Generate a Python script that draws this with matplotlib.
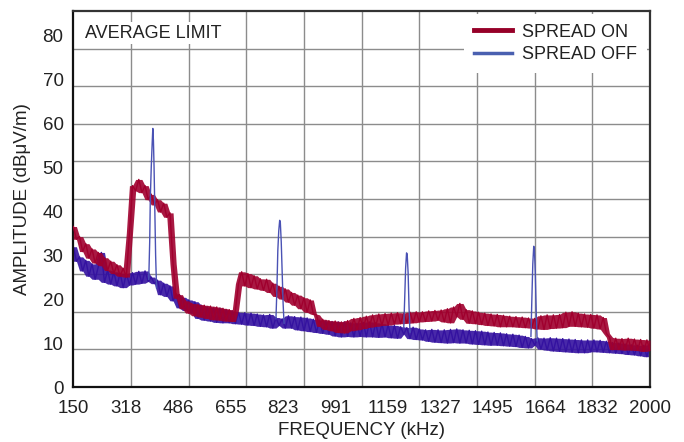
import numpy as np
import pandas as pd
import matplotlib.pyplot as plt

plt.rcParams['font.family'] = ['Liberation Sans', 'DejaVu Sans']

freq = np.arange(150, 2001, 10)

spread_on = [
    36.5, 33.6, 34.2, 30.8, 32.6, 29.3, 31.4, 28.2, 30.6, 27.6,
    29.4, 26.5, 28.6, 25.8, 27.8, 25.2, 27.0, 25.0, 35.0, 45.8,
    44.6, 47.2, 44.2, 45.8, 42.6, 43.8, 41.4, 42.6, 39.8, 41.8,
    38.6, 39.6, 28.0, 20.2, 21.0, 17.8, 19.6, 16.8, 19.0, 16.2,
    18.8, 15.9, 18.6, 15.6, 18.4, 15.3, 18.2, 15.2, 17.9, 15.0,
    17.6, 14.9, 17.5, 23.5, 26.2, 23.0, 25.8, 22.6, 25.3, 22.3,
    24.6, 22.0, 24.5, 21.5, 23.6, 20.6, 22.9, 20.0, 22.3, 19.3,
    21.5, 18.6, 20.9, 17.8, 20.3, 17.0, 19.8, 16.6, 16.4, 13.8,
    15.4, 13.1, 15.1, 12.8, 15.0, 12.4, 14.8, 12.3, 15.1, 12.8,
    15.6, 13.0, 15.8, 13.3, 16.1, 13.6, 16.4, 13.8, 16.6, 14.0,
    16.7, 14.1, 16.8, 14.3, 16.9, 14.4, 16.8, 14.5, 17.0, 14.6,
    17.1, 14.8, 17.1, 14.9, 17.3, 15.0, 17.4, 15.2, 17.5, 14.8,
    17.8, 14.6, 18.2, 16.0, 19.0, 15.4, 17.6, 14.5, 17.3, 14.4,
    17.0, 14.2, 16.8, 14.0, 16.6, 13.9, 16.5, 13.7, 16.3, 13.7,
    16.1, 13.7, 16.0, 13.6, 15.9, 13.5, 15.7, 13.4, 15.6, 13.2,
    16.2, 13.1, 16.4, 13.3, 16.4, 13.4, 16.5, 13.5, 17.0, 13.8,
    17.1, 13.8, 16.8, 13.7, 16.6, 13.6, 16.5, 13.4, 16.4, 13.2,
    15.8, 12.2, 11.3, 8.5, 11.1, 8.5, 11.0, 8.4, 11.1, 8.4,
    10.9, 8.3, 10.8, 8.1, 10.7, 8.3,
]

spread_off = [
    31.9, 28.6, 29.6, 26.4, 28.8, 25.2, 28.0, 24.5, 27.3, 30.6,
    23.8, 26.6, 23.4, 26.2, 23.0, 25.9, 22.6, 25.8, 23.2, 26.0,
    23.4, 26.3, 23.6, 26.4, 24.0, 25.0, 23.5, 24.3, 21.0, 23.6,
    20.6, 23.0, 19.6, 21.2, 18.0, 20.4, 17.4, 19.8, 16.8, 19.4,
    15.6, 18.6, 15.2, 18.2, 15.0, 18.0, 14.7, 17.9, 14.6, 17.6,
    14.6, 17.3, 14.4, 17.0, 14.3, 16.9, 14.1, 16.8, 14.0, 16.6,
    13.8, 16.4, 13.7, 16.5, 13.4, 15.8, 14.0, 15.5, 13.4, 16.2,
    13.4, 16.0, 13.0, 15.9, 12.8, 15.7, 12.6, 15.4, 12.4, 15.2,
    12.2, 15.0, 12.0, 14.9, 11.6, 14.8, 11.4, 14.8, 11.5, 14.6,
    11.4, 14.5, 11.5, 14.7, 11.4, 14.8, 11.4, 14.6, 11.3, 14.4,
    11.4, 14.1, 11.2, 14.0, 11.1, 13.7, 12.0, 13.5, 11.0, 13.6,
    10.8, 13.2, 10.7, 13.0, 10.4, 13.1, 10.2, 13.0, 10.1, 13.0,
    10.0, 13.1, 10.1, 13.2, 10.0, 13.0, 10.0, 12.9, 9.8, 12.8,
    9.7, 12.7, 9.6, 12.5, 9.5, 12.4, 9.5, 12.3, 9.4, 12.1,
    9.3, 12.0, 9.2, 11.8, 9.0, 11.5, 8.9, 11.0, 9.5, 11.2,
    8.6, 11.1, 8.4, 11.2, 8.2, 11.1, 8.1, 11.0, 8.0, 10.9,
    7.9, 10.8, 7.8, 10.7, 7.8, 10.7, 8.0, 10.7, 8.0, 10.6,
    7.9, 10.4, 7.8, 10.1, 7.7, 10.0, 7.6, 9.8, 7.4, 9.6,
    7.3, 9.5, 7.1, 9.5, 6.9, 9.6,
]

# switching-frequency harmonics with spread spectrum off
spike_freq = [
    [392, 395, 397, 400, 403, 405, 407, 409, 411, 414, 417],
    [800, 803, 806, 809, 812, 814, 817, 820, 823, 826],
    [1210, 1213, 1216, 1219, 1221, 1224, 1227, 1230],
    [1618, 1621, 1624, 1627, 1629, 1632, 1635, 1638],
]
spike_amp = [
    [24.5, 33, 43, 50, 55.5, 58.8, 56, 50, 42, 30, 22.5],
    [15.5, 22, 31, 35.5, 37.9, 37.5, 33, 26, 19, 14.5],
    [13.5, 20, 27, 30.5, 30.2, 26, 18, 12.5],
    [11.5, 20, 28, 32, 31.6, 26, 17, 10.5],
]

x_labels = ['150', '318', '486', '655', '823', '991', '1159', '1327',
            '1495', '1664', '1832', '2000']
y_labels = ['0', '10', '20', '30', '40', '50', '60', '70', '80']

red = '#a0002e'
blue = '#3412a0'


def noise_band(ax, x, trace, color, z):
    # the noise fills a band between the local peaks and troughs of the trace
    s = pd.Series(trace)
    hi = s.rolling(3, center=True, min_periods=1).max()
    lo = s.rolling(3, center=True, min_periods=1).min()
    ax.fill_between(x, lo, hi, color=color, lw=0, alpha=0.9, zorder=z)
    ax.plot(x, trace, color=color, lw=1.0, zorder=z)


fig = plt.figure(figsize=(6.84, 4.42), dpi=100)
ax = fig.add_axes([0.1072, 0.1244, 0.8431, 0.8507])

xmin, xmax = 150, 2000
ymin, ymax = 0, 85.5
ax.set_xlim(xmin, xmax)
ax.set_ylim(ymin, ymax)

# grid is a plain 10 x 10 division, independent of the labels
ax.set_xticks(np.linspace(xmin, xmax, 11)[1:-1], minor=True)
ax.set_yticks(np.linspace(ymin, ymax, 11)[1:-1], minor=True)
ax.grid(which='minor', color='#8c8c8c', linewidth=1.0)
ax.set_axisbelow(True)

ax.set_xticks(np.linspace(xmin, xmax, len(x_labels)))
ax.set_xticklabels(x_labels)
ax.set_yticks(np.arange(0, 81, 10))
ax.set_yticklabels(y_labels)
ax.tick_params(which='both', length=0)
ax.tick_params(axis='x', pad=9, labelsize=13.5, labelcolor='#222222')
ax.tick_params(axis='y', pad=7, labelsize=13.5, labelcolor='#222222')

for s in ax.spines.values():
    s.set_linewidth(1.6)
    s.set_color('#333333')
ax.spines['left'].set_color('#111111')
ax.spines['bottom'].set_color('#111111')

noise_band(ax, freq, spread_off, blue, 2)
noise_band(ax, freq, spread_on, red, 3)
for f, a in zip(spike_freq, spike_amp):
    ax.plot(f, a, color='#4a52b4', lw=1.0, zorder=4)

ax.set_xlabel('FREQUENCY (kHz)', fontsize=13.5, color='#222222', labelpad=4)
ax.set_ylabel('AMPLITUDE (dBμV/m)', fontsize=13.5, color='#222222', labelpad=8)

ax.text(0.02, 0.941, 'AVERAGE LIMIT', transform=ax.transAxes, fontsize=13,
        color='#222222', va='center', ha='left', zorder=5,
        bbox=dict(facecolor='white', edgecolor='none', pad=2))

h1, = ax.plot([], [], color='#960028', lw=3.5)
h2, = ax.plot([], [], color='#4a60b0', lw=2.5)
leg = ax.legend([h1, h2], ['SPREAD ON', 'SPREAD OFF'], loc='upper right',
                fontsize=13, frameon=True, fancybox=False, framealpha=1,
                edgecolor='none', handlelength=2.1, handletextpad=0.6,
                labelspacing=0.3, borderpad=0.55, borderaxespad=0.15)
for t in leg.get_texts():
    t.set_color('#222222')

fig.savefig('out.png', dpi=100)
